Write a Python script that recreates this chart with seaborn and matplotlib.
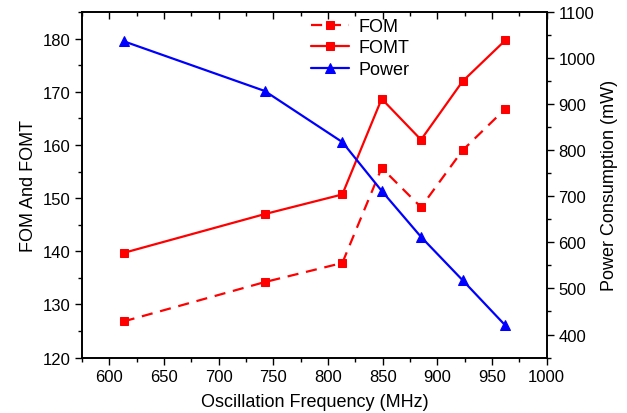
import matplotlib
matplotlib.use("Agg")
import matplotlib.pyplot as plt
from matplotlib.ticker import MultipleLocator
import seaborn as sns
import pandas as pd

freq_mhz = [613, 742, 813, 849, 885, 923, 962]
fom = [126.8, 134.2, 137.8, 155.7, 148.3, 159.0, 166.8]
fomt = [139.7, 147.0, 150.7, 168.7, 161.0, 172.0, 179.7]
power_mw = [1037, 929, 818, 712, 612, 518, 420]

df = pd.DataFrame({"freq": freq_mhz, "FOM": fom, "FOMT": fomt, "Power": power_mw})

sns.set_theme(style="ticks")
plt.rcParams["font.family"] = ["Liberation Sans", "DejaVu Sans"]
plt.rcParams["text.color"] = "black"
plt.rcParams["axes.labelcolor"] = "black"
plt.rcParams["xtick.color"] = "black"
plt.rcParams["ytick.color"] = "black"

fig, ax = plt.subplots(figsize=(6.27, 4.14), dpi=100)
fig.subplots_adjust(left=0.131, right=0.872, top=0.968, bottom=0.134)
ax2 = ax.twinx()

sns.lineplot(data=df, x="freq", y="FOM", ax=ax, color="#ff0000", marker="s",
             markersize=6, markeredgecolor="#ff0000", linewidth=1.6,
             dashes=False, linestyle=(0, (5, 3.5)), label="FOM", legend=False)
sns.lineplot(data=df, x="freq", y="FOMT", ax=ax, color="#ff0000", marker="s",
             markersize=6, markeredgecolor="#ff0000", linewidth=1.6,
             label="FOMT", legend=False)
sns.lineplot(data=df, x="freq", y="Power", ax=ax2, color="#0000ff", marker="^",
             markersize=7, markeredgecolor="#0000ff", linewidth=1.6,
             label="Power", legend=False)

ax.set_xlim(575, 1000)
ax.set_ylim(120, 185)
ax2.set_ylim(350, 1100)

ax.xaxis.set_major_locator(MultipleLocator(50))
ax.xaxis.set_minor_locator(MultipleLocator(25))
ax.yaxis.set_major_locator(MultipleLocator(10))
ax.yaxis.set_minor_locator(MultipleLocator(5))
ax2.yaxis.set_major_locator(MultipleLocator(100))
ax2.yaxis.set_minor_locator(MultipleLocator(50))

ax.tick_params(axis="x", which="both", direction="out", top=True, labelsize=12)
ax.tick_params(axis="x", which="major", length=5, width=1)
ax.tick_params(axis="x", which="minor", length=3, width=1)
ax.tick_params(axis="y", which="major", direction="out", length=5, width=1, labelsize=12)
ax.tick_params(axis="y", which="minor", direction="out", length=3, width=1)
ax2.tick_params(axis="y", which="major", direction="out", length=5, width=1, labelsize=12)
ax2.tick_params(axis="y", which="minor", direction="out", length=3, width=1)
# top axis ticks point inward
for t in ax.xaxis.get_major_ticks() + ax.xaxis.get_minor_ticks():
    t.tick2line.set_marker(3)

for a in (ax, ax2):
    for s in a.spines.values():
        s.set_visible(True)
        s.set_linewidth(1.2)
        s.set_color("black")

ax.set_xlabel("Oscillation Frequency (MHz)", fontsize=13, labelpad=6)
ax.set_ylabel("FOM And FOMT", fontsize=13)
ax2.set_ylabel("Power Consumption (mW)", fontsize=13)

h1, l1 = ax.get_legend_handles_labels()
h2, l2 = ax2.get_legend_handles_labels()
ax.legend(h1 + h2, l1 + l2, loc="upper left", bbox_to_anchor=(0.47, 1.015),
          frameon=False, fontsize=13, handlelength=2.1, labelspacing=0.25,
          borderaxespad=0.2, handletextpad=0.5)

fig.savefig("out.png", dpi=100)
